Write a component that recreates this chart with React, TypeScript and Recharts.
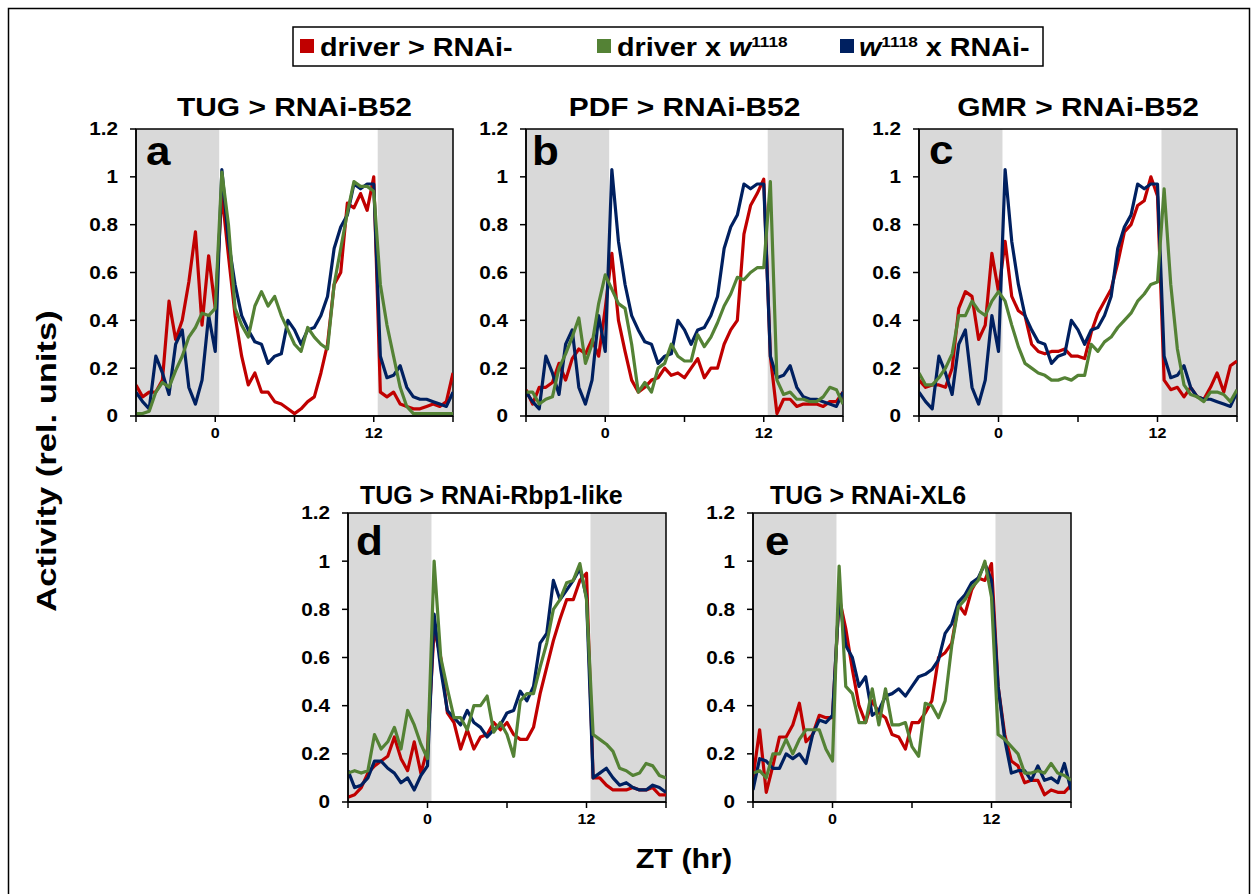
import React from 'react';
import { LineChart, Line, XAxis, YAxis, ReferenceArea } from 'recharts';

const FONT = "'Liberation Sans', Arial, Helvetica, sans-serif";
const RED = '#C00000';
const GREEN = '#548235';
const BLUE = '#002060';

// ZT grid in hours (30-min bins)
const ZT: number[] = Array.from({ length: 49 }, (_, i) => -6 + i * 0.5);
const Y_TICKS = [0, 0.2, 0.4, 0.6, 0.8, 1, 1.2];
const X_TICKS = [-6, 0, 6, 12, 18];
const X_LABELS: Record<string, string> = { '0': '0', '12': '12' };

// shared control w1118 x RNAi-B52 (panels a, b, c)
const blueB52 = [0.1, 0.06, 0.03, 0.25, 0.18, 0.09, 0.3, 0.36, 0.12, 0.05, 0.15, 0.42, 0.27, 1.03, 0.73, 0.55, 0.42, 0.36, 0.31, 0.3, 0.22, 0.25, 0.26, 0.4, 0.36,
  0.3, 0.36, 0.37, 0.42, 0.5, 0.7, 0.79, 0.84, 0.97, 0.95, 0.97, 0.97, 0.25, 0.16, 0.17, 0.21, 0.12, 0.08, 0.07, 0.07, 0.06, 0.05, 0.04, 0.1];

const redA = [0.13, 0.08, 0.1, 0.1, 0.15, 0.48, 0.32, 0.4, 0.56, 0.77, 0.38, 0.67, 0.45, 0.93, 0.67, 0.42, 0.25, 0.13, 0.18, 0.1, 0.1, 0.06, 0.05, 0.03, 0.01,
  0.03, 0.06, 0.08, 0.18, 0.3, 0.55, 0.6, 0.89, 0.87, 0.93, 0.86, 1.0, 0.1, 0.08, 0.1, 0.05, 0.04, 0.03, 0.03, 0.04, 0.05, 0.04, 0.06, 0.18];
const greenA = [0.01, 0.01, 0.02, 0.1, 0.14, 0.12, 0.19, 0.25, 0.33, 0.37, 0.43, 0.42, 0.45, 1.02, 0.8, 0.45, 0.38, 0.33, 0.46, 0.52, 0.46, 0.5, 0.42, 0.36, 0.3,
  0.27, 0.37, 0.33, 0.3, 0.28, 0.55, 0.7, 0.85, 0.98, 0.96, 0.96, 0.94, 0.55, 0.38, 0.25, 0.12, 0.04, 0.01, 0.01, 0.01, 0.01, 0.01, 0.01, 0.01];

const redB = [0.11, 0.05, 0.12, 0.12, 0.14, 0.22, 0.15, 0.24, 0.28, 0.26, 0.32, 0.25, 0.45, 0.68, 0.4, 0.27, 0.15, 0.1, 0.12, 0.15, 0.16, 0.2, 0.17, 0.18, 0.16,
  0.2, 0.24, 0.16, 0.2, 0.2, 0.3, 0.36, 0.4, 0.76, 0.88, 0.93, 0.99, 0.25, 0.01, 0.07, 0.07, 0.04, 0.05, 0.05, 0.05, 0.04, 0.06, 0.06, 0.1];
const greenB = [0.1, 0.1, 0.05, 0.07, 0.08, 0.2, 0.26, 0.33, 0.41, 0.22, 0.3, 0.47, 0.59, 0.53, 0.47, 0.45, 0.3, 0.1, 0.14, 0.1, 0.2, 0.22, 0.3, 0.25, 0.23,
  0.23, 0.34, 0.29, 0.33, 0.39, 0.46, 0.51, 0.58, 0.57, 0.6, 0.62, 0.62, 0.98, 0.15, 0.09, 0.1, 0.07, 0.07, 0.06, 0.06, 0.08, 0.12, 0.11, 0.05];

const redC = [0.15, 0.12, 0.13, 0.13, 0.12, 0.2, 0.45, 0.52, 0.5, 0.32, 0.38, 0.68, 0.52, 0.73, 0.5, 0.44, 0.42, 0.3, 0.27, 0.26, 0.27, 0.27, 0.28, 0.25, 0.25,
  0.24, 0.35, 0.43, 0.48, 0.53, 0.64, 0.77, 0.8, 0.88, 0.9, 1.0, 0.92, 0.15, 0.11, 0.12, 0.08, 0.12, 0.08, 0.07, 0.12, 0.18, 0.1, 0.21, 0.23];
const greenC = [0.18, 0.13, 0.13, 0.16, 0.2, 0.26, 0.42, 0.42, 0.48, 0.44, 0.42, 0.48, 0.52, 0.48, 0.38, 0.29, 0.22, 0.2, 0.18, 0.17, 0.15, 0.15, 0.16, 0.15, 0.17,
  0.17, 0.3, 0.27, 0.31, 0.33, 0.37, 0.4, 0.43, 0.48, 0.51, 0.55, 0.56, 0.95, 0.55, 0.28, 0.13, 0.09, 0.08, 0.06, 0.1, 0.1, 0.09, 0.06, 0.11];

const redD = [0.02, 0.03, 0.06, 0.12, 0.15, 0.17, 0.19, 0.27, 0.18, 0.13, 0.25, 0.12, 0.22, 0.72, 0.6, 0.37, 0.33, 0.22, 0.3, 0.22, 0.27, 0.28, 0.33, 0.3, 0.33,
  0.28, 0.26, 0.26, 0.31, 0.45, 0.56, 0.67, 0.76, 0.84, 0.84, 0.92, 0.95, 0.1, 0.1, 0.07, 0.05, 0.05, 0.05, 0.06, 0.05, 0.05, 0.06, 0.03, 0.03];
const blueD = [0.13, 0.06, 0.07, 0.1, 0.17, 0.17, 0.14, 0.12, 0.08, 0.1, 0.05, 0.11, 0.15, 0.78, 0.55, 0.38, 0.35, 0.32, 0.38, 0.33, 0.31, 0.27, 0.3, 0.32, 0.37,
  0.38, 0.46, 0.42, 0.48, 0.66, 0.7, 0.92, 0.84, 0.88, 0.92, 0.97, 0.85, 0.1, 0.12, 0.14, 0.1, 0.07, 0.08, 0.06, 0.05, 0.05, 0.07, 0.06, 0.04];
const greenD = [0.12, 0.13, 0.12, 0.13, 0.28, 0.22, 0.25, 0.31, 0.22, 0.38, 0.32, 0.24, 0.18, 1.0, 0.6, 0.47, 0.35, 0.35, 0.3, 0.4, 0.4, 0.44, 0.29, 0.33, 0.28,
  0.19, 0.42, 0.45, 0.45, 0.56, 0.66, 0.8, 0.84, 0.91, 0.92, 0.99, 0.84, 0.28, 0.26, 0.24, 0.21, 0.14, 0.13, 0.11, 0.12, 0.16, 0.15, 0.11, 0.1];

const redE = [0.1, 0.3, 0.04, 0.15, 0.27, 0.27, 0.32, 0.41, 0.25, 0.28, 0.36, 0.35, 0.35, 0.85, 0.72, 0.55, 0.4, 0.33, 0.42, 0.37, 0.35, 0.28, 0.27, 0.22, 0.33,
  0.33, 0.37, 0.42, 0.6, 0.62, 0.66, 0.82, 0.78, 0.88, 0.93, 0.92, 0.99, 0.48, 0.28, 0.17, 0.15, 0.08, 0.09, 0.09, 0.03, 0.05, 0.04, 0.04, 0.07];
const blueE = [0.05, 0.18, 0.17, 0.14, 0.14, 0.2, 0.18, 0.2, 0.16, 0.28, 0.34, 0.33, 0.36, 0.85, 0.65, 0.6, 0.48, 0.52, 0.36, 0.38, 0.44, 0.45, 0.47, 0.44, 0.48,
  0.52, 0.53, 0.55, 0.59, 0.7, 0.74, 0.83, 0.86, 0.91, 0.93, 0.99, 0.92, 0.48, 0.26, 0.12, 0.13, 0.13, 0.09, 0.15, 0.09, 0.1, 0.08, 0.16, 0.05];
const greenE = [0.12, 0.13, 0.1, 0.2, 0.2, 0.26, 0.2, 0.26, 0.3, 0.3, 0.3, 0.22, 0.17, 0.98, 0.48, 0.45, 0.33, 0.33, 0.47, 0.32, 0.47, 0.32, 0.32, 0.33, 0.23,
  0.19, 0.41, 0.4, 0.35, 0.42, 0.65, 0.81, 0.84, 0.89, 0.92, 1.0, 0.85, 0.28, 0.26, 0.23, 0.2, 0.12, 0.12, 0.13, 0.12, 0.16, 0.12, 0.11, 0.09];

const PANELS = [
  { id: 'a', title: 'TUG > RNAi-B52', left: 136, top: 129, w: 317, h: 287, red: redA, green: greenA, blue: blueB52, lx: 146, ly: 165, tx: 294.5, ty: 116, anchor: 'middle', sx: 1.15 },
  { id: 'b', title: 'PDF > RNAi-B52', left: 526, top: 129, w: 317, h: 287, red: redB, green: greenB, blue: blueB52, lx: 532, ly: 165, tx: 684.5, ty: 116, anchor: 'middle', sx: 1.15 },
  { id: 'c', title: 'GMR > RNAi-B52', left: 919, top: 129, w: 318, h: 287, red: redC, green: greenC, blue: blueB52, lx: 929, ly: 164, tx: 1078, ty: 116, anchor: 'middle', sx: 1.15 },
  { id: 'd', title: 'TUG > RNAi-Rbp1-like', left: 348, top: 513, w: 318, h: 289, red: redD, green: greenD, blue: blueD, lx: 356, ly: 555, tx: 360, ty: 504, anchor: 'start', sx: 0.96 },
  { id: 'e', title: 'TUG > RNAi-XL6', left: 753, top: 513, w: 318, h: 289, red: redE, green: greenE, blue: blueE, lx: 765, ly: 555, tx: 770, ty: 504, anchor: 'start', sx: 0.96 },
];

const YTick = (props: any) => {
  const { x, y, payload } = props;
  return (
    <text x={0} y={0} transform={`translate(${x},${y}) scale(1.15,1)`} textAnchor="end" dy="0.36em"
      fontSize={18} fontWeight="bold" fontFamily={FONT} fill="#000">{String(payload.value)}</text>
  );
};

const XTick = (props: any) => {
  const { x, y, payload } = props;
  const label = X_LABELS[String(payload.value)] || '';
  if (!label) return <g />;
  return (
    <text x={0} y={0} transform={`translate(${x},${y + 14}) scale(1.15,1)`} textAnchor="middle"
      fontSize={14} fontWeight="bold" fontFamily={FONT} fill="#000">{label}</text>
  );
};

const Panel = ({ p }: { p: typeof PANELS[number] }) => {
  const data = ZT.map((zt, i) => ({ zt, red: p.red[i], green: p.green[i], blue: p.blue[i] }));
  const W = p.w + 70;
  const H = p.h + 50;
  return (
    <div style={{ position: 'absolute', left: p.left - 60, top: p.top - 10, width: W, height: H }}>
      <LineChart width={W} height={H} data={data} margin={{ top: 10, right: 10, bottom: 0, left: 0 }}>
        <XAxis dataKey="zt" type="number" domain={[-6, 18]} ticks={X_TICKS} height={40}
          axisLine={{ stroke: '#000', strokeWidth: 1.5 }} tickLine={{ stroke: '#000', strokeWidth: 1.5 }}
          tickSize={6} tick={<XTick />} interval={0} allowDataOverflow />
        <YAxis type="number" domain={[0, 1.2]} ticks={Y_TICKS} width={60}
          axisLine={{ stroke: '#000', strokeWidth: 1.5 }} tickLine={{ stroke: '#000', strokeWidth: 1.5 }}
          tickSize={6} tickMargin={12} tick={<YTick />} interval={0} allowDataOverflow />
        <ReferenceArea x1={-6} x2={0.3} y1={0} y2={1.2} fill="#d9d9d9" fillOpacity={1} stroke="none" />
        <ReferenceArea x1={12.3} x2={18} y1={0} y2={1.2} fill="#d9d9d9" fillOpacity={1} stroke="none" />
        <Line type="linear" dataKey="red" stroke={RED} strokeWidth={3.2} dot={false} isAnimationActive={false} strokeLinejoin="round" />
        <Line type="linear" dataKey="blue" stroke={BLUE} strokeWidth={3.2} dot={false} isAnimationActive={false} strokeLinejoin="round" />
        <Line type="linear" dataKey="green" stroke={GREEN} strokeWidth={3.2} dot={false} isAnimationActive={false} strokeLinejoin="round" />
        <ReferenceArea x1={-6} x2={18} y1={0} y2={1.2} fill="none" stroke="#000" strokeWidth={1.5} />
      </LineChart>
    </div>
  );
};

const T = (props: any) => (
  <text fontFamily={FONT} fontWeight="bold" fill="#000" {...props} />
);

export default function App() {
  return (
    <div style={{ position: 'absolute', left: 0, top: 0, width: 1258, height: 894, background: '#fff', overflow: 'hidden', fontFamily: FONT }}>
      {PANELS.map((p) => <Panel key={p.id} p={p} />)}
      <svg width={1258} height={894} style={{ position: 'absolute', left: 0, top: 0, pointerEvents: 'none' }}>
        {/* outer frame */}
        <rect x={8.5} y={8.5} width={1241} height={900} fill="none" stroke="#000" strokeWidth={1.5} />
        {/* legend */}
        <rect x={293} y={27} width={750} height={39} fill="#fff" stroke="#000" strokeWidth={1.5} />
        <rect x={300} y={39} width={14} height={14} fill={RED} />
        <T transform="translate(320,56) scale(1.15,1)" fontSize={25}>driver &gt; RNAi-</T>
        <rect x={597} y={39} width={14} height={14} fill={GREEN} />
        <T transform="translate(617,56) scale(1.15,1)" fontSize={25}>
          <tspan>driver x </tspan><tspan fontStyle="italic">w</tspan><tspan fontSize={15} dy={-9}>1118</tspan>
        </T>
        <rect x={840} y={39} width={14} height={14} fill={BLUE} />
        <T transform="translate(859,56) scale(1.15,1)" fontSize={25}>
          <tspan fontStyle="italic">w</tspan><tspan fontSize={15} dy={-9}>1118</tspan><tspan dy={9}> x RNAi-</tspan>
        </T>
        {/* titles and letters */}
        {PANELS.map((p) => (
          <g key={p.id}>
            <T transform={`translate(${p.tx},${p.ty}) scale(${p.sx},1)`} fontSize={26} textAnchor={p.anchor}>{p.title}</T>
            <T transform={`translate(${p.lx},${p.ly}) scale(1.1,1)`} fontSize={40}>{p.id}</T>
          </g>
        ))}
        {/* axis titles */}
        <T transform="translate(56,461) rotate(-90) scale(1.28,1)" fontSize={27} textAnchor="middle">Activity (rel. units)</T>
        <T transform="translate(684,868) scale(1.13,1)" fontSize={27} textAnchor="middle">ZT (hr)</T>
      </svg>
    </div>
  );
}
